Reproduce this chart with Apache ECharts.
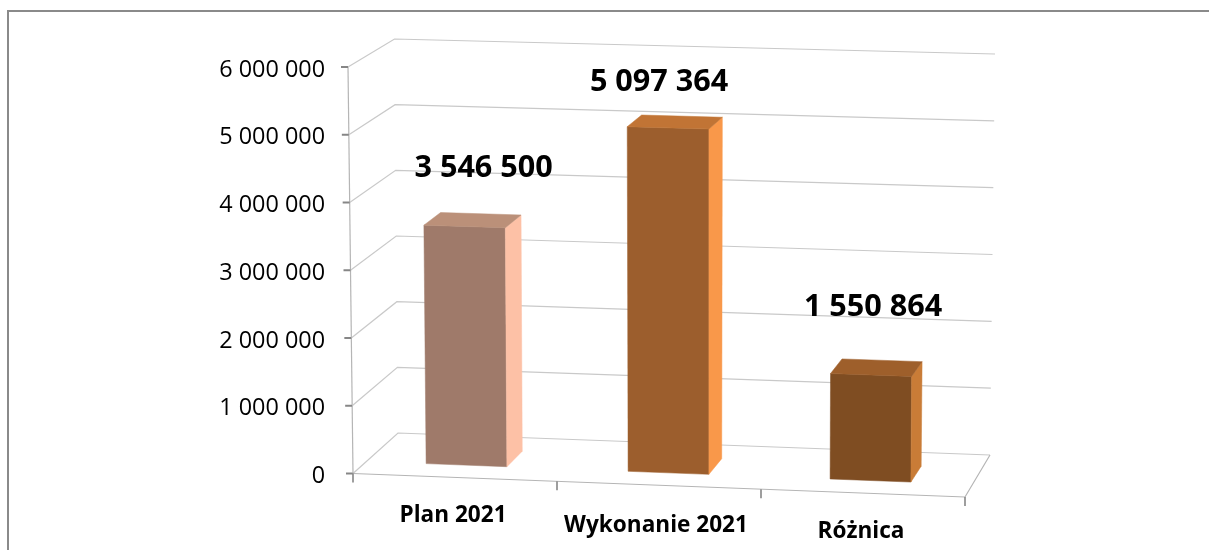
<!DOCTYPE html>
<html><head><meta charset="utf-8">
<style>html,body{margin:0;padding:0;background:#fff}#c{width:1209px;height:550px}</style>
<script src="https://cdn.jsdelivr.net/npm/echarts@6/dist/echarts.min.js"></script>
</head><body><div id="c"></div>
<script>
const categories = ['Plan 2021', 'Wykonanie 2021', 'Różnica'];
const values = [3546500, 5097364, 1550864];
const yTicks = [0, 1000000, 2000000, 3000000, 4000000, 5000000, 6000000];

const faceColors = [
  {front:'#9f7a6a', top:'#bb9079', side:'#fdc1a6'},
  {front:'#9c5e2d', top:'#c17435', side:'#f9984a'},
  {front:'#7f4d22', top:'#9e5f2b', side:'#c97c37'}
];
const valueLabelShift = [[19,-57],[-9,-44],[2,-66]];

// Oblique view of the plot box: [u, v, depth] corners in pixels
const box = {
  f00:[353,473.5], f10:[965,497], f01:[348,67],  f11:[968,84],
  b00:[398,433],   b10:[990,455], b01:[394.5,39],b11:[995,54]
};
const mix = (a,b,t)=>[a[0]+(b[0]-a[0])*t, a[1]+(b[1]-a[1])*t];
function project(rect, X, Y, d){
  const u=(X-rect.x)/rect.width, v=(rect.y+rect.height-Y)/rect.height;
  const f=mix(mix(box.f00,box.f10,u),mix(box.f01,box.f11,u),v);
  const b=mix(mix(box.b00,box.b10,u),mix(box.b01,box.b11,u),v);
  return mix(f,b,d);
}
const fmt = v=>String(v).replace(/\B(?=(\d{3})+(?!\d))/g,' ');
const barFrac=0.4, barNudge=-1, d0=0.3, d1=0.68;
const gridColor='#c9c9c9', axisColor='#b5b5b5', tickColor='#868686';

function renderWall(params, api){
  const r=params.coordSys;
  const y=api.coord([0,api.value(1)])[1];
  const L=r.x, R=r.x+r.width;
  const children=[];
  const line=(pts,c,w)=>({type:'polyline',shape:{points:pts},style:{stroke:c,lineWidth:w,fill:null}});
  const a=project(r,L,y,0);
  children.push(line([a,project(r,L,y,1),project(r,R,y,1)],gridColor,1.2));
  children.push(line([[a[0]-7,a[1]],a],tickColor,2));
  if(params.dataIndex===0){
    const top=api.coord([0,yTicks[yTicks.length-1]])[1];
    children.push(line([a,project(r,L,top,0)],axisColor,1.2));
    const fr=project(r,R,y,0);
    children.push(line([a,fr,project(r,R,y,1)],axisColor,1.2));
    for(let i=0;i<=categories.length;i++){
      const p=project(r,L+r.width*i/categories.length,y,0);
      children.push(line([p,[p[0],p[1]+9]],tickColor,1.6));
    }
  }
  return {type:'group',children};
}
function renderBar(params, api){
  const r=params.coordSys, i=api.value(0);
  const c=api.coord([i,api.value(1)]), b=api.coord([i,0]);
  const w=api.size([1,0])[0]*barFrac;
  const xl=c[0]-w/2+barNudge, xr=c[0]+w/2+barNudge;
  const P=(x,y,d)=>project(r,x,y,d);
  const col=faceColors[i];
  const poly=(pts,fill)=>({type:'polygon',shape:{points:pts},style:{fill,stroke:fill,lineWidth:0.5}});
  const ftl=P(xl,c[1],d0), ftr=P(xr,c[1],d0), fbl=P(xl,b[1],d0), fbr=P(xr,b[1],d0);
  const btl=P(xl,c[1],d1), btr=P(xr,c[1],d1), bbr=P(xr,b[1],d1);
  const s=valueLabelShift[i];
  return {type:'group',children:[
    poly([ftl,ftr,fbr,fbl],col.front),
    poly([ftr,btr,bbr,fbr],col.side),
    poly([ftl,btl,btr,ftr],col.top),
    {type:'text',style:{text:fmt(api.value(1)),x:(ftl[0]+ftr[0])/2+s[0],y:ftl[1]+s[1],
      align:'center',verticalAlign:'middle',fill:'#000',
      font:'bold 30.6px "Open Sans"'}}
  ]};
}
const chart=echarts.init(document.getElementById('c'),null,{renderer:'canvas'});
chart.setOption({
  animation:false,
  backgroundColor:'#fff',
  grid:{left:353,top:67,width:612,height:406.5,containLabel:false,outerBoundsMode:'none'},
  graphic:[{type:'polyline',silent:true,shape:{points:[[8,550],[8,11],[1209,11]]},
    style:{stroke:'#8a8a8a',lineWidth:2,fill:null}}],
  xAxis:{type:'category',
    data:categories.map((c,i)=>({value:c,textStyle:{padding:[[0,4,0,0],[10,6,0,0],[16,4,0,0]][i]}})),
    axisLine:{show:false},axisTick:{show:false},
    axisLabel:{margin:31,color:'#000',fontFamily:'Open Sans',fontWeight:'bold',fontSize:22.6,interval:0}},
  yAxis:{type:'value',min:0,max:6000000,interval:1000000,
    axisLine:{show:false},axisTick:{show:false},splitLine:{show:false},
    axisLabel:{margin:28,color:'#000',fontFamily:'Open Sans',fontSize:23.4,formatter:fmt,verticalAlign:'top',lineHeight:6}},
  series:[
    {type:'custom',silent:true,z:1,clip:false,encode:{x:0,y:1},renderItem:renderWall,
      data:yTicks.map(t=>[0,t])},
    {type:'custom',silent:true,z:2,clip:false,encode:{x:0,y:1},renderItem:renderBar,
      data:values.map((v,i)=>[i,v])}
  ]
});
</script></body></html>
